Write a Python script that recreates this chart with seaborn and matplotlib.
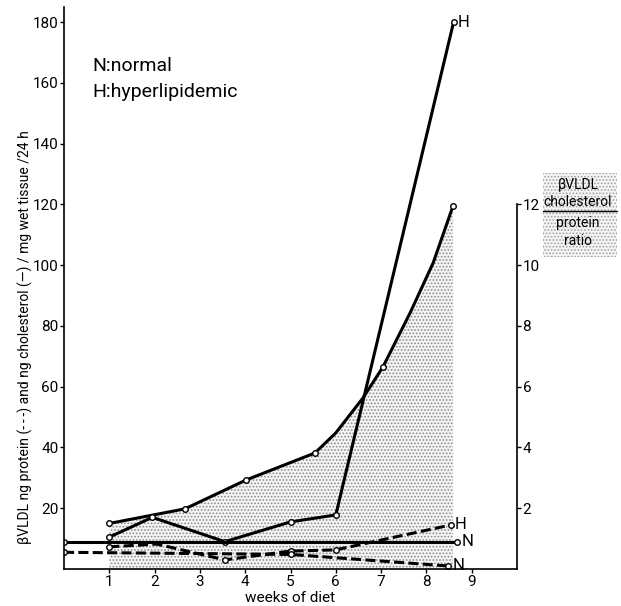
import matplotlib
matplotlib.use('Agg')
import matplotlib.pyplot as plt
import seaborn as sns
from matplotlib.patches import Rectangle

# values (weeks of diet vs ng / mg wet tissue / 24 h)
weeks_chol_h = [1.0, 1.95, 3.55, 5.0, 6.0, 8.6]
chol_h = [10.5, 17.0, 9.0, 15.5, 17.8, 180.0]

weeks_chol_n = [0.0, 8.68]
chol_n = [9.0, 9.0]

weeks_prot_h = [1.0, 2.05, 3.55, 5.0, 6.0, 8.54]
prot_h = [7.3, 8.2, 3.0, 5.9, 6.3, 14.5]

weeks_prot_n = [0.0, 5.0, 8.48]
prot_n = [5.5, 4.8, 1.0]

# cholesterol / protein ratio (right axis), curve read at extra points too
weeks_ratio = [1.0, 2.67, 4.02, 5.54, 6.0, 6.6, 7.04, 7.64, 8.15, 8.59]
ratio = [1.5, 1.98, 2.93, 3.82, 4.48, 5.63, 6.65, 8.43, 10.08, 11.96]
ratio_measured = [0, 1, 2, 3, 6, 9]

x_ticks = [1, 2, 3, 4, 5, 6, 7, 8, 9]
left_ticks = [20, 40, 60, 80, 100, 120, 140, 160, 180]
right_ticks = [2, 4, 6, 8, 10, 12]

sns.set_style('ticks')
plt.rcParams['font.family'] = ['Roboto', 'DejaVu Sans']
plt.rcParams['hatch.linewidth'] = 0.8
for k in ('text.color', 'axes.labelcolor', 'xtick.color', 'ytick.color'):
    plt.rcParams[k] = 'black'

fig = plt.figure(figsize=(6.21, 6.06), dpi=100)
ax = fig.add_axes([64 / 621, 37 / 606, 453 / 621, 562 / 606])
ax2 = ax.twinx()
ax.set_zorder(ax2.get_zorder() + 1)
ax.patch.set_visible(False)

line_kw = dict(color='black', lw=2.2, marker='o', markersize=4,
               markerfacecolor='white', markeredgecolor='black',
               markeredgewidth=1.0)
dash = (0, (3.3, 1.4))

# stippled ratio area + curve on the right axis
ax2.fill_between(weeks_ratio, ratio, 0, facecolor='#f5f5f5',
                 edgecolor='#8a8a8a', hatch='.....', linewidth=0)
sns.lineplot(x=weeks_ratio, y=ratio, ax=ax2, markevery=ratio_measured, **line_kw)

# cholesterol (solid) and protein (dashed)
sns.lineplot(x=weeks_chol_h, y=chol_h, ax=ax, **line_kw)
sns.lineplot(x=weeks_chol_n, y=chol_n, ax=ax, **line_kw)
sns.lineplot(x=weeks_prot_h, y=prot_h, ax=ax, linestyle=dash,
             markevery=[0, 2, 3, 4, 5], **line_kw)
sns.lineplot(x=weeks_prot_n, y=prot_n, ax=ax, linestyle=dash, **line_kw)

# end labels
lab_kw = dict(textcoords='offset points', fontsize=12, va='center', ha='left')
ax.annotate('H', (weeks_chol_h[-1], chol_h[-1]), xytext=(3, 0), **lab_kw)
ax.annotate('N', (weeks_chol_n[-1], chol_n[-1]), xytext=(3, 0), **lab_kw)
ax.annotate('H', (weeks_prot_h[-1], prot_h[-1]), xytext=(3, 0), **lab_kw)
ax.annotate('N', (weeks_prot_n[-1], prot_n[-1]), xytext=(3, 0), **lab_kw)

ax.text(0.62, 164, 'N:normal', fontsize=14, va='baseline')
ax.text(0.62, 155.5, 'H:hyperlipidemic', fontsize=14, va='baseline')

# axes
ax.set_xlim(0, 10)
ax.set_ylim(0, 185)
ax2.set_ylim(0, 18.5)
ax.set_xticks(x_ticks)
ax.set_yticks(left_ticks)
ax2.set_yticks(right_ticks)
for a in (ax, ax2):
    a.tick_params(direction='out', length=3, width=1, labelsize=11, pad=1)
    a.set_ylabel('')
ax.set_xlabel('weeks of diet', fontsize=11, labelpad=2)

ax.spines['top'].set_visible(False)
ax.spines['right'].set_visible(False)
for s in ('top', 'left', 'bottom'):
    ax2.spines[s].set_visible(False)
ax2.spines['right'].set_bounds(0, 12)
for a in (ax, ax2):
    for s in a.spines.values():
        s.set_linewidth(1.2)
        s.set_color('black')

fig.text(25 / 621, 1 - 337 / 606,
         'βVLDL ng protein (-\u2009-\u2009-) and ng cholesterol (—) / mg wet tissue /24 h',
         rotation=90, ha='center', va='center', fontsize=10)

# stippled box with the ratio label
fig.patches.append(Rectangle((543 / 621, 1 - 257 / 606), 74 / 621, 84 / 606,
                             transform=fig.transFigure, facecolor='#f5f5f5',
                             edgecolor='#a0a0a0', hatch='.....', linewidth=0))
fig.add_artist(plt.Line2D([543 / 621, 617 / 621], [1 - 211 / 606, 1 - 211 / 606],
                          transform=fig.transFigure, color='black', lw=1))
cx = 578 / 621
for txt, py in [('βVLDL', 185), ('cholesterol', 202), ('protein', 223), ('ratio', 241)]:
    fig.text(cx, 1 - py / 606, txt, ha='center', va='center', fontsize=10)

fig.savefig('out.png', dpi=100)
